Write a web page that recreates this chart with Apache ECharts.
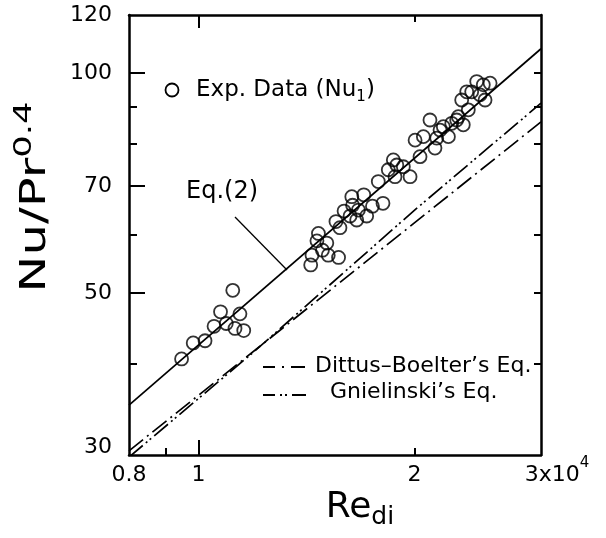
<!DOCTYPE html>
<html>
<head>
<meta charset="utf-8">
<script src="https://cdn.jsdelivr.net/npm/echarts@6/dist/echarts.min.js"></script>
<style>
  html, body { margin: 0; padding: 0; background: #ffffff; }
  #chart { width: 606px; height: 538px; }
</style>
</head>
<body>
<div id="chart"></div>
<script>
// Measured points: Re_di (x10^4) and Nu/Pr^0.4
const reExp = [
  0.947, 0.983, 1.021, 1.051, 1.073, 1.116, 1.093, 1.124, 1.142, 1.156,
  1.433, 1.439, 1.469, 1.462, 1.509, 1.488, 1.516, 1.567, 1.554, 1.574,
  1.595, 1.635, 1.639, 1.626, 1.661, 1.670, 1.699, 1.715, 1.747, 1.807,
  1.780, 1.838, 1.868, 1.889, 1.878, 1.929, 1.971,
  2.003, 2.057, 2.035, 2.101, 2.135, 2.147, 2.170, 2.193, 2.229, 2.253,
  2.289, 2.338, 2.301, 2.376, 2.326, 2.364, 2.402, 2.441, 2.493, 2.548,
  2.507, 2.467
];
const nuExp = [
  40.6, 42.7, 43.0, 45.0, 47.1, 50.4, 45.4, 44.7, 46.8, 44.4,
  54.6, 56.3, 60.3, 58.9, 58.5, 57.2, 56.3, 55.9, 62.6, 61.4,
  64.7, 67.7, 65.9, 63.7, 62.9, 64.9, 68.1, 63.7, 65.7, 66.3,
  71.0, 73.7, 76.0, 74.8, 72.1, 74.4, 72.1,
  80.9, 81.8, 76.8, 86.2, 78.9, 81.4, 83.5, 84.4, 81.8, 85.3,
  86.2, 84.9, 87.1, 89.0, 91.8, 94.2, 94.2, 97.3, 96.3, 96.8,
  91.8, 93.3
];

// Correlations
const reEq2 = [0.8, 3.0];
const nuEq2 = [35.1, 107.9];
const reDittus = [0.8, 3.0];
const nuDittus = [30.4, 85.7];
const reGniel = [0.8, 1.2, 2.0, 3.0];
const nuGniel = [29.8, 41.7, 64.9, 90.9];

// Axis ticks and labels
const xLabelValues = [0.8, 1, 2, 3];
const xLongTicks = [1];
const xShortTicks = [0.9, 2];
const xTopShortTicks = [2];
const yLabelValues = [30, 50, 70, 100, 120];
const yLongTicks = [50, 70, 100];
const yShortTicks = [40, 60, 80, 90];
const yRightTicks = [40, 50, 60, 70, 80, 90, 100];

const FONT = 'DejaVu Sans';
const pairs = (xs, ys) => xs.map((x, i) => [x, ys[i]]);

const chart = echarts.init(document.getElementById('chart'), null, { renderer: 'canvas' });

const frameLine = { show: true, onZero: false, lineStyle: { color: '#000', width: 2.5 } };
const noLine = { show: false };

function xAxisDef(pos, ticks, len, opts) {
  return Object.assign({
    type: 'log', logBase: 10, min: 0.8, max: 3, position: pos,
    axisLine: noLine,
    axisTick: { show: true, inside: true, length: len, customValues: ticks, lineStyle: { color: '#000', width: 2 } },
    axisLabel: { show: false },
    splitLine: { show: false }, minorTick: { show: false }
  }, opts || {});
}
function yAxisDef(pos, ticks, len, opts) {
  return Object.assign({
    type: 'log', logBase: 10, min: 30, max: 120, position: pos,
    axisLine: noLine,
    axisTick: { show: true, inside: true, length: len, customValues: ticks, lineStyle: { color: '#000', width: 2 } },
    axisLabel: { show: false },
    splitLine: { show: false }, minorTick: { show: false }
  }, opts || {});
}

const xLabelFmt = function (v) {
  const r = Math.round(v * 10) / 10;
  if (r === 3) return '{w|3x10}{s|4}';
  return '{m|' + (r === 0.8 ? '0.8' : String(r)) + '}';
};
const yLabelFmt = function (v) {
  const r = Math.round(v);
  return r === 30 ? '{lo|30}' : '{m|' + r + '}';
};

const option = {
  animation: false,
  backgroundColor: '#ffffff',
  grid: { left: 129, top: 15, width: 412, height: 440, outerBoundsMode: 'none', containLabel: false },
  xAxis: [
    xAxisDef('bottom', xLongTicks, 15, {
      axisLine: frameLine,
      axisLabel: {
        show: true, customValues: xLabelValues, margin: 1, formatter: xLabelFmt,
        color: '#000', fontFamily: FONT,
        rich: {
          m: { fontSize: 22, fontFamily: FONT, color: '#000', lineHeight: 30, verticalAlign: 'bottom' },
          w: { fontSize: 22, fontFamily: FONT, color: '#000', lineHeight: 30, verticalAlign: 'bottom', padding: [0, 0, 0, 32] },
          s: { fontSize: 15, fontFamily: FONT, color: '#000', verticalAlign: 'top' }
        }
      }
    }),
    xAxisDef('bottom', xShortTicks, 7),
    xAxisDef('top', xLongTicks, 13, { axisLine: frameLine }),
    xAxisDef('top', xTopShortTicks, 7)
  ],
  yAxis: [
    yAxisDef('left', yLongTicks, 16, {
      axisLine: frameLine,
      axisLabel: {
        show: true, customValues: yLabelValues, margin: 17, formatter: yLabelFmt,
        color: '#000', fontFamily: FONT,
        rich: {
          m: { fontSize: 22, fontFamily: FONT, color: '#000' },
          lo: { fontSize: 22, fontFamily: FONT, color: '#000', padding: [0, 0, 16, 0] }
        }
      }
    }),
    yAxisDef('left', yShortTicks, 8),
    yAxisDef('right', yRightTicks, 7, { axisLine: frameLine })
  ],
  series: [
    {
      name: 'Eq.(2)', type: 'line', data: pairs(reEq2, nuEq2),
      showSymbol: false, symbol: 'none', silent: true,
      lineStyle: { color: '#000', width: 1.7, type: 'solid' }
    },
    {
      name: "Dittus-Boelter's Eq.", type: 'line', data: pairs(reDittus, nuDittus),
      showSymbol: false, symbol: 'none', silent: true,
      lineStyle: { color: '#000', width: 1.7, type: [18, 5, 2, 5] }
    },
    {
      name: "Gnielinski's Eq.", type: 'line', data: pairs(reGniel, nuGniel),
      showSymbol: false, symbol: 'none', silent: true,
      lineStyle: { color: '#000', width: 1.7, type: [18, 4, 2, 3, 2, 4] }
    },
    {
      name: 'Exp. Data (Nu1)', type: 'scatter', data: pairs(reExp, nuExp),
      symbol: 'circle', symbolSize: 13, silent: true,
      itemStyle: { color: 'rgba(0,0,0,0)', borderColor: '#000', borderWidth: 1.8 }
    }
  ],
  graphic: [
    // legend: experimental data
    { type: 'circle', shape: { cx: 172, cy: 90, r: 6.5 }, style: { fill: 'none', stroke: '#000', lineWidth: 1.8 } },
    {
      type: 'text', x: 196, y: 90,
      style: {
        text: '{a|Exp. Data (Nu}{s|1}{a|)}', align: 'left', verticalAlign: 'middle',
        rich: {
          a: { fontSize: 23, fontFamily: FONT, fill: '#000', lineHeight: 30 },
          s: { fontSize: 15, fontFamily: FONT, fill: '#000', verticalAlign: 'bottom' }
        }
      }
    },
    // Eq.(2) label with leader
    {
      type: 'text', x: 186, y: 192,
      style: { text: 'Eq.(2)', fontSize: 24, fontFamily: FONT, fill: '#000', align: 'left', verticalAlign: 'middle' }
    },
    { type: 'line', shape: { x1: 235, y1: 217, x2: 287, y2: 270 }, style: { stroke: '#000', lineWidth: 1.3 } },
    // legend: correlations
    { type: 'line', shape: { x1: 263, y1: 367, x2: 305, y2: 367 }, style: { stroke: '#000', lineWidth: 1.8, lineDash: [12, 7, 2, 7, 14] } },
    {
      type: 'text', x: 315, y: 366,
      style: { text: 'Dittus\u2013Boelter\u2019s Eq.', fontSize: 22, fontFamily: FONT, fill: '#000', align: 'left', verticalAlign: 'middle' }
    },
    { type: 'line', shape: { x1: 263, y1: 395, x2: 306, y2: 395 }, style: { stroke: '#000', lineWidth: 1.8, lineDash: [12, 5, 2, 3, 2, 5, 14] } },
    {
      type: 'text', x: 330, y: 392,
      style: { text: 'Gnielinski\u2019s Eq.', fontSize: 22, fontFamily: FONT, fill: '#000', align: 'left', verticalAlign: 'middle' }
    },
    // axis titles
    {
      type: 'text', x: 36, y: 197, rotation: Math.PI / 2, scaleX: 1.42,
      style: {
        text: '{a|Nu/Pr}{s|0.4}', align: 'center', verticalAlign: 'middle',
        rich: {
          a: { fontSize: 35, fontFamily: FONT, fill: '#000', lineHeight: 48 },
          s: { fontSize: 25, fontFamily: FONT, fill: '#000', verticalAlign: 'top' }
        }
      }
    },
    {
      type: 'text', x: 360, y: 508,
      style: {
        text: '{a|Re}{s|di}', align: 'center', verticalAlign: 'middle',
        rich: {
          a: { fontSize: 36, fontFamily: FONT, fill: '#000', lineHeight: 44 },
          s: { fontSize: 25, fontFamily: FONT, fill: '#000', verticalAlign: 'bottom' }
        }
      }
    }
  ]
};

chart.setOption(option);
</script>
</body>
</html>
